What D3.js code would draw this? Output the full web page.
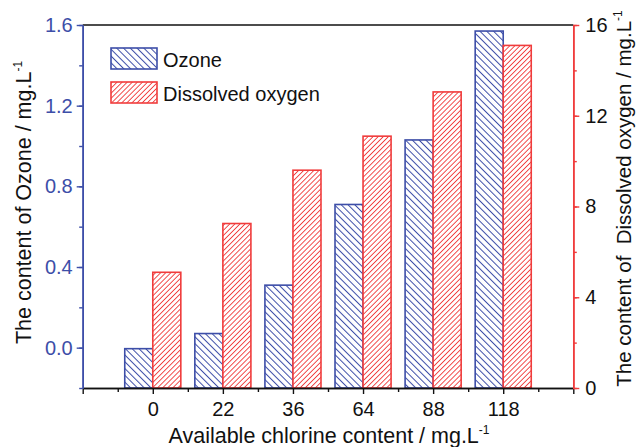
<!DOCTYPE html>
<html>
<head>
<meta charset="utf-8">
<script src="https://cdn.jsdelivr.net/npm/d3@7"></script>
<style>
  body { margin: 0; background: #fff; }
  svg { display: block; font-family: Arial, "Liberation Sans", sans-serif; }
</style>
</head>
<body>
<svg id="chart" width="636" height="447"></svg>
<script>
// Available chlorine content (mg/L) on the x axis
const categories = ["0", "22", "36", "64", "88", "118"];
// Ozone content, mg/L (left axis)
const ozone = [-0.005, 0.07, 0.31, 0.71, 1.03, 1.57];
// Dissolved oxygen content, mg/L (right axis)
const dissolvedOxygen = [5.1, 7.25, 9.6, 11.1, 13.05, 15.1];
const leftTicks = [0.0, 0.4, 0.8, 1.2, 1.6];
const rightTicks = [0, 4, 8, 12, 16];

const blue = "#3d4ea8";
const red = "#f03c3c";

const svg = d3.select("#chart");
const W = 636, H = 447;
const margin = { left: 82.7, right: W - 573.3, top: 25, bottom: H - 388 };
const x0 = margin.left, x1 = W - margin.right;
const yTop = margin.top, yBot = H - margin.bottom;

const x = d3.scaleLinear().domain([0, categories.length + 1]).range([x0, x1]);
const yL = d3.scaleLinear().domain([-0.2, 1.6]).range([yBot, yTop]);
const yR = d3.scaleLinear().domain([0, 16]).range([yBot, yTop]);
const step = x(1) - x(0);
const barW = step * 0.4;

// hatch patterns: vertical stripes rotated into diagonals
const defs = svg.append("defs");
function hatch(id, color, spacing, width, angle) {
  const p = defs.append("pattern").attr("id", id)
    .attr("patternUnits", "userSpaceOnUse")
    .attr("width", spacing).attr("height", spacing)
    .attr("patternTransform", `rotate(${angle})`);
  p.append("rect").attr("x", 0).attr("y", 0).attr("width", spacing).attr("height", spacing).attr("fill", "#fff");
  p.append("rect").attr("x", 0).attr("y", 0).attr("width", width).attr("height", spacing).attr("fill", color);
}
hatch("hatchBlue", blue, 4.8, 1.0, -45);
hatch("hatchRed", red, 3.6, 0.9, 45);

// bars
const g = svg.append("g");
g.selectAll("rect.oz").data(ozone).join("rect").attr("class", "oz")
  .attr("x", (d, i) => x(i + 1) - barW)
  .attr("y", d => yL(d))
  .attr("width", barW)
  .attr("height", d => yBot - yL(d))
  .attr("fill", "url(#hatchBlue)").attr("stroke", blue).attr("stroke-width", 1.6);
g.selectAll("rect.do").data(dissolvedOxygen).join("rect").attr("class", "do")
  .attr("x", (d, i) => x(i + 1))
  .attr("y", d => yR(d))
  .attr("width", barW)
  .attr("height", d => yBot - yR(d))
  .attr("fill", "url(#hatchRed)").attr("stroke", red).attr("stroke-width", 1.6);

// top frame line
svg.append("line").attr("x1", x0).attr("x2", x1).attr("y1", yTop).attr("y2", yTop)
  .attr("stroke", "#111").attr("stroke-width", 1.6);

function styleAxis(sel, color, textColor) {
  sel.select(".domain").attr("stroke", color).attr("stroke-width", 1.6);
  sel.selectAll(".tick line").attr("stroke", color).attr("stroke-width", 1.4);
  sel.selectAll("text").attr("fill", textColor).attr("font-size", 20)
    .attr("font-family", "Arial, 'Liberation Sans', sans-serif");
}

// bottom axis: minor then major ticks
const xMinor = svg.append("g").attr("transform", `translate(0,${yBot})`)
  .call(d3.axisBottom(x).tickValues(d3.range(0.5, categories.length + 1, 1)).tickSize(4).tickFormat("").tickSizeOuter(0));
styleAxis(xMinor, "#111", "#111");
const xMajor = svg.append("g").attr("transform", `translate(0,${yBot})`)
  .call(d3.axisBottom(x).tickValues(d3.range(0, categories.length + 2)).tickSize(6).tickSizeOuter(0)
    .tickPadding(8)
    .tickFormat(i => (i >= 1 && i <= categories.length) ? categories[i - 1] : ""));
styleAxis(xMajor, "#111", "#111");

// left axis
const lMinor = svg.append("g").attr("transform", `translate(${x0},0)`)
  .call(d3.axisLeft(yL).tickValues(d3.range(-0.2, 1.61, 0.2)).tickSize(3.5).tickFormat("").tickSizeOuter(0));
styleAxis(lMinor, blue, blue);
const lMajor = svg.append("g").attr("transform", `translate(${x0},0)`)
  .call(d3.axisLeft(yL).tickValues(leftTicks).tickSize(6).tickPadding(4).tickSizeOuter(0).tickFormat(d3.format(".1f")));
styleAxis(lMajor, blue, blue);

// right axis
const rMinor = svg.append("g").attr("transform", `translate(${x1},0)`)
  .call(d3.axisRight(yR).tickValues(d3.range(0, 16.1, 2)).tickSize(3.5).tickFormat("").tickSizeOuter(0));
styleAxis(rMinor, red, "#111");
const rMajor = svg.append("g").attr("transform", `translate(${x1},0)`)
  .call(d3.axisRight(yR).tickValues(rightTicks).tickSize(6).tickPadding(6).tickSizeOuter(0).tickFormat(d3.format("d")));
styleAxis(rMajor, red, "#111");

// axis titles with superscript
function unitTitle(t, str) {
  t.append("tspan").text(str);
  t.append("tspan").attr("dy", -9).attr("font-size", 12).text("-1");
}
const xt = svg.append("text").attr("x", (x0 + x1) / 2 + 1).attr("y", 443)
  .attr("text-anchor", "middle").attr("font-size", 21.5).attr("fill", "#111");
unitTitle(xt, "Available chlorine content / mg.L");

const lt = svg.append("text").attr("transform", `translate(31,${(yTop + yBot) / 2 - 4}) rotate(-90)`)
  .attr("text-anchor", "middle").attr("font-size", 21.5).attr("fill", "#111");
unitTitle(lt, "The content of Ozone / mg.L");

const rt = svg.append("text").attr("transform", `translate(631,${(yTop + yBot) / 2 - 8}) rotate(-90)`)
  .attr("text-anchor", "middle").attr("font-size", 20.5).attr("fill", "#111")
  .style("white-space", "pre");
unitTitle(rt, "The content of  Dissolved oxygen / mg.L");

// legend
const legend = svg.append("g");
const legendItems = [
  { name: "Ozone", fill: "url(#hatchBlue)", stroke: blue },
  { name: "Dissolved oxygen", fill: "url(#hatchRed)", stroke: red }
];
legend.selectAll("rect").data(legendItems).join("rect")
  .attr("x", 111).attr("y", (d, i) => 48 + i * 34)
  .attr("width", 46).attr("height", 21)
  .attr("fill", d => d.fill).attr("stroke", d => d.stroke).attr("stroke-width", 1.6);
legend.selectAll("text").data(legendItems).join("text")
  .attr("x", 163).attr("y", (d, i) => 67 + i * 34)
  .attr("font-size", 20).attr("fill", "#111").text(d => d.name);
</script>
</body>
</html>
